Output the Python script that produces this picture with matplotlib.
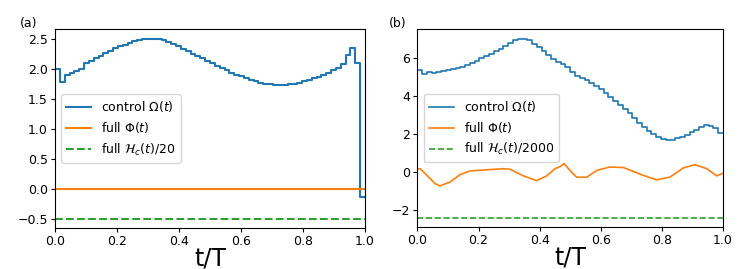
import numpy as np
import matplotlib
matplotlib.use('Agg')
import matplotlib.pyplot as plt

# step edges shared by both controls (64 piecewise-constant segments)
edges = np.linspace(0, 1, 65)

omega_a = [2.00, 1.78, 1.89, 1.93, 1.96, 2.00, 2.09, 2.13, 2.17, 2.21,
           2.26, 2.30, 2.34, 2.37, 2.40, 2.43, 2.46, 2.48, 2.49, 2.50,
           2.50, 2.49, 2.47, 2.44, 2.41, 2.37, 2.33, 2.29, 2.25, 2.21,
           2.17, 2.13, 2.09, 2.05, 2.01, 1.97, 1.93, 1.90, 1.87, 1.84,
           1.81, 1.79, 1.77, 1.75, 1.74, 1.73, 1.73, 1.73, 1.74, 1.75,
           1.77, 1.79, 1.81, 1.84, 1.86, 1.89, 1.92, 1.97, 2.01, 2.08,
           2.23, 2.35, 2.10, -0.13]
phi_a = 0.0
hc_a = -0.51

omega_b = [5.40, 5.17, 5.28, 5.25, 5.27, 5.32, 5.38, 5.44, 5.50, 5.57,
           5.66, 5.76, 5.88, 6.00, 6.12, 6.25, 6.38, 6.52, 6.68, 6.84,
           6.97, 7.04, 7.03, 6.95, 6.78, 6.58, 6.40, 6.20, 5.98, 5.80,
           5.70, 5.55, 5.30, 5.10, 4.95, 4.85, 4.70, 4.55, 4.40, 4.20,
           3.95, 3.75, 3.55, 3.35, 3.10, 2.85, 2.60, 2.38, 2.18, 2.00,
           1.85, 1.75, 1.70, 1.72, 1.80, 1.88, 1.98, 2.10, 2.25, 2.38,
           2.47, 2.46, 2.35, 2.08]
phi_t = [0.0, 0.009, 0.031, 0.058, 0.074, 0.107, 0.140, 0.172, 0.216, 0.281,
         0.303, 0.347, 0.390, 0.423, 0.450, 0.467, 0.480, 0.499, 0.521, 0.554,
         0.587, 0.630, 0.674, 0.739, 0.783, 0.827, 0.870, 0.908, 0.947, 0.979,
         1.0]
phi_b = [0.16, 0.19, -0.16, -0.60, -0.72, -0.51, -0.12, 0.07, 0.12, 0.19,
         0.16, -0.19, -0.44, -0.19, 0.19, 0.30, 0.46, 0.10, -0.26, -0.26,
         0.10, 0.28, 0.25, -0.16, -0.40, -0.25, 0.23, 0.40, 0.19, -0.19,
         -0.05]
hc_b = -2.41

blue = '#1f77b4'
orange = '#ff7f0e'
green = '#2ca02c'
fs = 9

fig = plt.figure(figsize=(7.48, 2.69), dpi=100)
ax1 = fig.add_axes([0.0735, 0.153, 0.4145, 0.739])
ax2 = fig.add_axes([0.558, 0.155, 0.4086, 0.737])

# (a)
ax1.step(edges, omega_a + [omega_a[-1]], where='post', color=blue, lw=1.5,
         label=r'control $\Omega(t)$')
ax1.axhline(phi_a, color=orange, lw=1.5, label=r'full $\Phi(t)$')
ax1.axhline(hc_a, color=green, lw=1.5, ls='--', label=r'full $\mathcal{H}_c(t)/20$')
ax1.set_xlim(0, 1)
ax1.set_ylim(-0.65, 2.66)
ax1.set_yticks([-0.5, 0.0, 0.5, 1.0, 1.5, 2.0, 2.5])
ax1.set_xticks([0, 0.2, 0.4, 0.6, 0.8, 1.0])
ax1.legend(loc='center left', fontsize=fs)
ax1.set_xlabel('t/T', fontsize=17, labelpad=-1)
ax1.text(-0.113, 1.01, '(a)', transform=ax1.transAxes, fontsize=fs)

# (b)
ax2.step(edges, omega_b + [omega_b[-1]], where='post', color=blue, lw=1.2,
         label=r'control $\Omega(t)$')
ax2.plot(phi_t, phi_b, color=orange, lw=1.2, label=r'full $\Phi(t)$')
ax2.axhline(hc_b, color=green, lw=1.2, ls='--', label=r'full $\mathcal{H}_c(t)/2000$')
ax2.set_xlim(0, 1)
ax2.set_ylim(-2.9, 7.55)
ax2.set_yticks([-2, 0, 2, 4, 6])
ax2.set_xticks([0, 0.2, 0.4, 0.6, 0.8, 1.0])
ax2.legend(loc='center left', fontsize=fs)
ax2.set_xlabel('t/T', fontsize=17, labelpad=-1)
ax2.text(-0.092, 1.01, '(b)', transform=ax2.transAxes, fontsize=fs)

for ax in (ax1, ax2):
    ax.tick_params(labelsize=fs, length=2.8, pad=2.2)

fig.savefig('out.png', dpi=100)
